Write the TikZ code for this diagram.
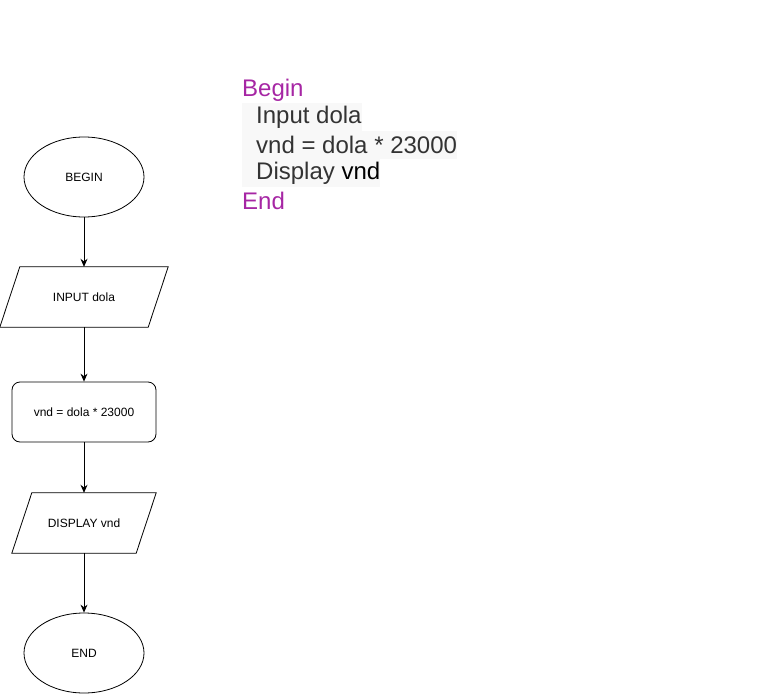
\documentclass[tikz,border=0pt]{standalone}
\usepackage{fontspec}
\setmainfont{Liberation Sans}
\usepackage{xcolor}
\usetikzlibrary{shapes.geometric,arrows.meta,positioning}
\definecolor{kwpurple}{RGB}{166,38,164}
\definecolor{codegray}{RGB}{51,51,51}
\definecolor{linebg}{RGB}{248,248,248}
\tikzstyle{startstop} = [ellipse, minimum width=120pt, minimum height=80pt, text centered, draw=black, line width=0.8pt, font=\fontsize{12}{14}\selectfont]
\tikzstyle{io} = [rectangle, minimum width=148pt, minimum height=60pt, text centered, font=\fontsize{12}{14}\selectfont,
    append after command={\pgfextra{\draw[line width=0.8pt] ([xshift=10pt]\tikzlastnode.north west) -- ([xshift=10pt]\tikzlastnode.north east) -- ([xshift=-10pt]\tikzlastnode.south east) -- ([xshift=-10pt]\tikzlastnode.south west) -- cycle;}}]
\tikzstyle{process} = [rectangle, rounded corners=8pt, minimum width=144pt, minimum height=60pt, text centered, draw=black, line width=0.8pt, font=\fontsize{12}{14}\selectfont]
\tikzstyle{codeline} = [anchor=west, inner sep=0pt, minimum height=28pt, font=\fontsize{24}{28}\selectfont]
\tikzstyle{arrow} = [line width=0.8pt,-{Stealth[length=8pt,width=7pt]}]

\begin{document}
\begin{tikzpicture}[x=1pt, y=1pt, node distance=120pt]
    \useasboundingbox (0,0) rectangle (770,-695);
    % Flowchart nodes
    \node (begin) [startstop] at (84,-177) {BEGIN};
    \node (input) [io, below of=begin] {INPUT dola};
    \node (calc) [process, below of=input, yshift=5pt] {vnd = dola * 23000};
    \node (display) [io, below of=calc, yshift=9pt, minimum width=124pt] {DISPLAY vnd};
    \node (end) [startstop, below of=display, yshift=-10pt] {END};

    % Arrows
    \draw [arrow] (begin) -- (input);
    \draw [arrow] (input) -- (calc);
    \draw [arrow] (calc) -- (display);
    \draw [arrow] (display) -- (end);

    % Pseudocode
    \node (cbegin) [codeline, text=kwpurple] at (242,-90) {Begin};
    \node (cinput) [codeline, fill=linebg, text=codegray] at (242,-117) {\hspace{14pt}Input dola\hspace{1pt}};
    \node (ccalc) [codeline, fill=linebg, text=codegray] at (242,-145) {\hspace{14pt}vnd = dola * 23000\hspace{1pt}};
    \node (cdisplay) [codeline, fill=linebg, text=codegray] at (242,-173) {\hspace{14pt}Display \textcolor{black}{vnd}\hspace{1pt}};
    \node (cend) [codeline, text=kwpurple] at (242,-201) {End};
\end{tikzpicture}
\end{document}
